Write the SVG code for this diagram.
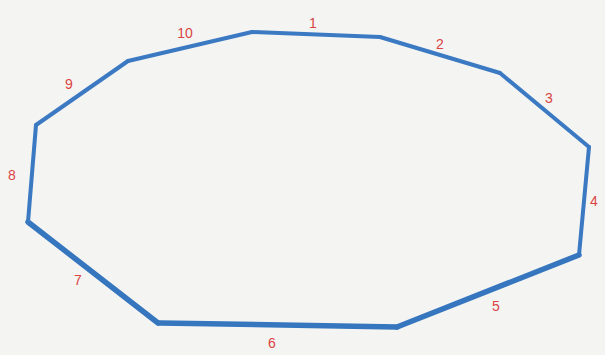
<svg xmlns="http://www.w3.org/2000/svg" width="605" height="355" viewBox="0 0 605 355">
<style>
.s{stroke:#3b79c2;stroke-width:4;stroke-linecap:round;fill:none}
.t{stroke:#3676be;stroke-width:5.5;stroke-linecap:round;fill:none}
.l{font-family:"Liberation Sans",Arial,sans-serif;font-size:14px;fill:#dc4444;text-anchor:middle}
</style>
<rect width="605" height="355" fill="#f4f4f3"/>
<g id="sides">
<g id="side1"><line class="s" x1="252" y1="32" x2="380" y2="37"/><text class="l" x="313" y="28">1</text></g>
<g id="side2"><line class="s" x1="380" y1="37" x2="500" y2="73"/><text class="l" x="440" y="49">2</text></g>
<g id="side3"><line class="s" x1="500" y1="73" x2="589" y2="147"/><text class="l" x="549" y="103">3</text></g>
<g id="side4"><line class="s" x1="589" y1="147" x2="579" y2="255"/><text class="l" x="594" y="206">4</text></g>
<g id="side5"><line class="t" x1="579" y1="255" x2="397" y2="327"/><text class="l" x="496" y="311">5</text></g>
<g id="side6"><line class="t" x1="397" y1="327" x2="160" y2="323"/><text class="l" x="272" y="348">6</text></g>
<g id="side7"><line class="t" x1="158" y1="323" x2="28" y2="222"/><text class="l" x="78" y="285">7</text></g>
<g id="side8"><line class="s" x1="28" y1="222" x2="36" y2="125"/><text class="l" x="12" y="180">8</text></g>
<g id="side9"><line class="s" x1="36" y1="125" x2="128" y2="61"/><text class="l" x="69" y="89">9</text></g>
<g id="side10"><line class="s" x1="128" y1="61" x2="252" y2="32"/><text class="l" x="185" y="38">10</text></g>
</g>
</svg>
